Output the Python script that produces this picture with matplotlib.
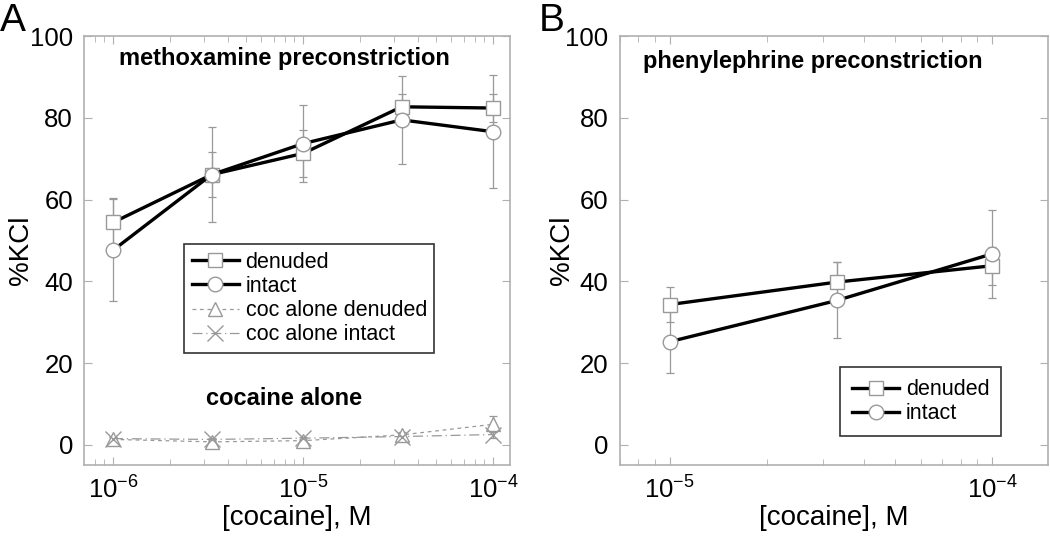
import matplotlib
matplotlib.use("Agg")
from matplotlib import pyplot as plt
from matplotlib.ticker import LogLocator, NullFormatter

plt.rcParams['font.family'] = ['Liberation Sans', 'DejaVu Sans']
plt.rcParams['mathtext.default'] = 'regular'

# panel A: methoxamine preconstriction
conc_a = [1e-6, 3.3e-6, 1e-5, 3.3e-5, 1e-4]
den_a = [54.4, 66.1, 71.3, 82.7, 82.4]
den_a_err = [6.0, 5.5, 5.7, 3.2, 3.5]
int_a = [47.6, 66.1, 73.7, 79.5, 76.6]
int_a_err = [12.5, 11.6, 9.5, 10.7, 13.8]
coc_den = [1.3, 0.7, 1.0, 2.4, 5.0]
coc_den_err = [0.5, 0.5, 0.5, 0.8, 2.0]
coc_int = [1.5, 1.3, 1.6, 2.0, 2.5]
coc_int_err = [0.4, 0.4, 0.4, 0.5, 0.8]

# panel B: phenylephrine preconstriction
conc_b = [1e-5, 3.3e-5, 1e-4]
den_b = [34.3, 39.8, 43.8]
den_b_err = [4.2, 5.0, 4.7]
int_b = [25.2, 35.3, 46.7]
int_b_err = [7.7, 9.3, 10.7]

gray = '#999999'
spine = '#b0b0b0'

fig = plt.figure(figsize=(10.5, 5.39), dpi=100)
axA = fig.add_axes([0.080, 0.137, 0.406, 0.796])
axB = fig.add_axes([0.590, 0.137, 0.408, 0.796])

def style(ax, xlim, ylab_x):
    ax.set_xscale('log')
    ax.set_xlim(*xlim)
    ax.set_ylim(-5, 100)
    ax.set_yticks([0, 20, 40, 60, 80, 100])
    ax.xaxis.set_major_locator(LogLocator(base=10, numticks=10))
    ax.xaxis.set_minor_locator(LogLocator(base=10, subs=range(2, 10), numticks=20))
    ax.xaxis.set_minor_formatter(NullFormatter())
    for s in ax.spines.values():
        s.set_color(spine)
        s.set_linewidth(1.2)
    ax.tick_params(which='both', direction='in', top=True, right=True,
                   color=spine, labelsize=18.5, pad=8)
    ax.tick_params(which='major', length=6)
    ax.tick_params(which='minor', length=4)
    ax.set_xlabel('[cocaine], M', fontsize=20, labelpad=1)
    ax.set_ylabel('%KCl', fontsize=20)
    ax.yaxis.set_label_coords(ylab_x, 0.5)

def series(ax, x, y, err, marker, ls='-', lw=2.4, lc='black', ms=10.5, label=None):
    ax.errorbar(x, y, yerr=err, fmt='none', ecolor=gray, elinewidth=0.9,
                capsize=3, capthick=0.9, zorder=1)
    ax.plot(x, y, ls=ls, lw=lw, color=lc, marker=marker, ms=ms, mfc='white',
            mec=gray, mew=1.0, label=label, zorder=2)

style(axA, (10 ** -6.153, 10 ** -3.91), -0.118)
series(axA, conc_a, den_a, den_a_err, 's', label='denuded')
series(axA, conc_a, int_a, int_a_err, 'o', label='intact')
series(axA, conc_a, coc_den, coc_den_err, '^', ls=(0, (3, 3)), lw=0.9, lc=gray,
       ms=10, label='coc alone denuded')
series(axA, conc_a, coc_int, coc_int_err, 'x', ls=(0, (8, 3, 1, 3)), lw=0.9, lc=gray,
       ms=11, label='coc alone intact')
axA.text(1.076e-6, 94.6, 'methoxamine preconstriction', fontsize=17, fontweight='bold',
         va='center', ha='left')
axA.text(7.9e-6, 11.2, 'cocaine alone', fontsize=17, fontweight='bold',
         va='center', ha='center')
axA.legend(loc='upper left', bbox_to_anchor=(0.235, 0.515), fontsize=15.5,
           frameon=True, fancybox=False, edgecolor='black', handlelength=2.2,
           handletextpad=0.3, borderpad=0.35, labelspacing=0.15, borderaxespad=0)
axA.get_legend().get_frame().set_linewidth(1.2)

style(axB, (10 ** -5.155, 10 ** -3.827), -0.103)
series(axB, conc_b, den_b, den_b_err, 's', label='denuded')
series(axB, conc_b, int_b, int_b_err, 'o', label='intact')
axB.text(8.3e-6, 93.9, 'phenylephrine preconstriction', fontsize=17, fontweight='bold',
         va='center', ha='left')
axB.legend(loc='upper left', bbox_to_anchor=(0.515, 0.228), fontsize=15.5,
           frameon=True, fancybox=False, edgecolor='black', handlelength=2.2,
           handletextpad=0.3, borderpad=0.55, labelspacing=0.15, borderaxespad=0)
axB.get_legend().get_frame().set_linewidth(1.2)

fig.text(0.0, 0.995, 'A', fontsize=28, ha='left', va='top')
fig.text(0.513, 0.995, 'B', fontsize=28, ha='left', va='top')

fig.savefig('out.png', dpi=100)
